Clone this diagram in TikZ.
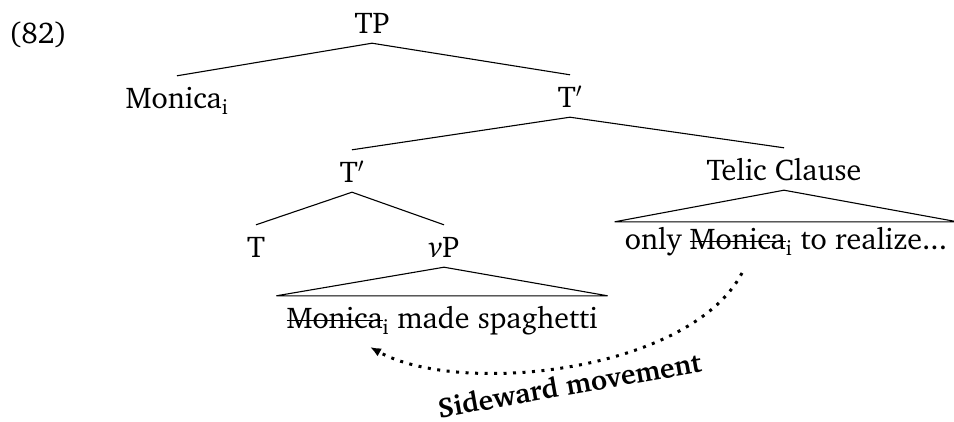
\documentclass[tikz,border=0pt]{standalone}
\usepackage[T1]{fontenc}
\usepackage{charter}
\usetikzlibrary{arrows.meta}
\newcommand{\strk}[1]{\setbox0=\hbox{#1}\rlap{\raisebox{0.23em}{\rule{\wd0}{1.1pt}}}\box0}
\begin{document}
\begin{tikzpicture}[x=1pt,y=-1pt,
  lab/.style={font=\fontsize{30}{36}\selectfont, anchor=base, text height=29pt, text depth=7pt, inner xsep=0pt, inner ysep=3pt},
  tri/.style={lab, inner xsep=10pt},
  edge/.style={line width=1.1pt},
  mv/.style={line width=3pt, dash pattern=on 3pt off 6.5pt, -{Latex[length=11pt,width=9pt]}}]
\useasboundingbox (0,0) rectangle (954,421);
\node[lab] (ex) at (38,43) {(82)};
\node[lab] (TP) at (372,33) {TP};
\node[lab] (Mon) at (177,108) {Monica\textsubscript{i}};
\node[lab] (Tb1) at (570,107) {T$'$};
\node[lab] (Tb2) at (352,182) {T$'$};
\node[lab] (Tel) at (784,180) {Telic Clause};
\node[lab] (T) at (256,257) {T};
\node[lab] (vP) at (444,257) {\textit{v}P};
\node[tri] (vPc) at (442,328) {\strk{Monica}\textsubscript{i} made spaghetti};
\node[tri, text height=24pt] (Telc) at (786,249) {only \strk{Monica}\textsubscript{i} to realize...};
\draw[edge] (TP.south) -- (Mon.north);
\draw[edge] (TP.south) -- (Tb1.north);
\draw[edge] (Tb1.south) -- (Tb2.north);
\draw[edge] (Tb1.south) -- (Tel.north);
\draw[edge] (Tb2.south) -- (T.north);
\draw[edge] (Tb2.south) -- (vP.north);
\draw[edge] (vP.south) -- (vPc.north west) -- (vPc.north east) -- cycle;
\draw[edge] (Tel.south) -- (Telc.north west) -- (Telc.north east) -- cycle;
\coordinate (mvS) at (742,273);
\coordinate (mvE) at (370,347);
\draw[mv] (mvS) .. controls (690,372) and (460,397) .. (mvE);
\node[font=\bfseries\fontsize{28}{34}\selectfont, anchor=base, rotate=10, inner sep=0pt] (lbl) at (571,395) {Sideward movement};
\end{tikzpicture}
\end{document}
